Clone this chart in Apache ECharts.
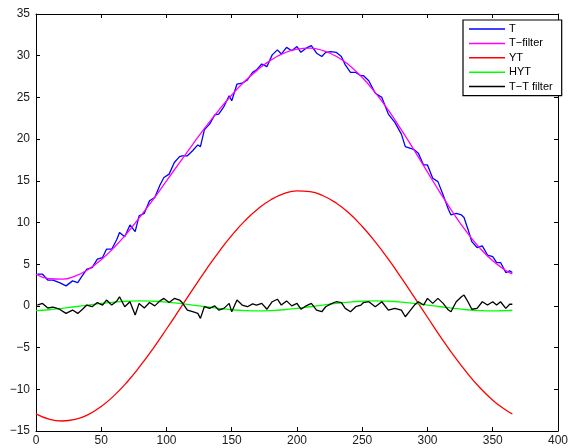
<!DOCTYPE html>
<html>
<head>
<meta charset="utf-8">
<script src="https://cdn.jsdelivr.net/npm/echarts@6/dist/echarts.min.js"></script>
<style>
  html, body { margin: 0; padding: 0; background: #fff; }
  #chart { width: 571px; height: 448px; }
</style>
</head>
<body>
<div id="chart"></div>
<script>
// smooth curves, every 10 days
var smoothDays = [0,10,20,30,40,50,60,70,80,90,100,110,120,130,140,150,160,170,180,190,200,210,220,230,240,250,260,270,280,290,300,310,320,330,340,350,360,365];
var tFilter = [3.79,3.26,3.20,3.58,4.37,5.54,7.03,8.77,10.73,12.81,14.99,17.18,19.35,21.46,23.45,25.29,26.93,28.33,29.47,30.30,30.78,30.90,30.61,29.94,28.86,27.38,25.57,23.46,21.11,18.61,16.04,13.50,11.08,8.87,6.96,5.40,4.25,3.83];
var yt = [-12.95,-13.58,-13.80,-13.62,-13.03,-12.06,-10.73,-9.09,-7.17,-5.05,-2.77,-0.42,1.95,4.26,6.45,8.45,10.19,11.63,12.73,13.46,13.78,13.70,13.21,12.34,11.10,9.52,7.67,5.60,3.35,1.01,-1.36,-3.70,-5.92,-7.97,-9.78,-11.30,-12.49,-12.95];
var hyt = [-0.56,-0.46,-0.30,-0.10,0.10,0.30,0.46,0.56,0.60,0.56,0.46,0.30,0.10,-0.10,-0.30,-0.46,-0.56,-0.60,-0.56,-0.46,-0.30,-0.10,0.10,0.30,0.46,0.56,0.60,0.56,0.46,0.30,0.10,-0.10,-0.30,-0.46,-0.56,-0.60,-0.56,-0.52];

// noisy curves
var noisyDays = [1,5,9,13,18,23,28,32,35,39,43,47,51,54,58,62,64,68,72,76,79,83,87,91,95,98,102,106,110,112,116,120,124,126,129,133,137,140,144,148,150,154,158,162,166,169,173,177,181,185,188,192,196,200,203,207,211,215,219,222,226,230,234,237,241,245,249,251,255,260,265,270,275,280,283,287,290,293,297,300,304,308,312,316,318,322,326,328,331,334,338,342,346,350,353,356,360,363,365];
var tValues = [3.8,3.8,3.1,3.1,2.8,2.4,3.0,2.8,3.5,4.4,4.6,5.6,5.8,6.8,6.8,8.0,8.8,8.3,9.7,8.9,10.8,11.1,12.6,13.0,14.5,15.4,15.8,17.2,17.9,18.0,18.0,18.6,19.3,19.1,21.1,21.8,22.9,23.0,23.9,25.2,24.6,26.6,26.7,27.1,28.0,28.3,29.0,28.7,30.1,30.7,30.2,31.0,30.6,31.1,30.4,30.9,31.2,30.3,29.9,30.4,30.5,30.4,29.9,28.9,28.0,28.0,27.6,27.6,27.0,25.5,25.0,23.0,22.0,20.6,19.1,18.9,18.7,18.3,16.9,16.9,15.3,14.9,13.3,11.6,10.9,11.1,10.9,10.6,9.2,7.7,7.0,7.2,6.1,5.9,5.2,5.2,4.0,4.2,4.0];
var ttFilter = [0.1,0.3,-0.25,-0.15,-0.4,-0.9,-0.5,-0.9,-0.5,0.1,-0.1,0.4,0.1,0.7,0.1,0.6,1.1,-0.1,0.5,-1.1,0.3,-0.25,0.4,0.0,0.6,0.9,0.4,0.9,0.7,0.4,-0.5,-0.7,-0.9,-1.5,-0.1,-0.3,0.0,-0.5,-0.3,0.3,-0.7,0.7,0.1,-0.1,0.25,0.1,0.3,-0.4,0.5,0.8,0.1,0.6,0.0,0.3,-0.4,0.0,0.3,-0.5,-0.7,-0.1,0.25,0.5,0.4,-0.3,-0.7,-0.1,0.1,0.4,0.5,-0.1,0.5,-0.5,-0.3,-0.5,-1.3,-0.5,0.1,0.5,0.1,0.9,0.3,0.9,0.3,-0.5,-0.7,0.5,1.1,1.3,0.5,-0.4,-0.3,0.5,0.1,0.5,0.1,0.5,-0.3,0.2,0.2];

var seriesNames = ['T', 'T\u2212filter', 'YT', 'HYT', 'T\u2212T filter'];
var seriesColors = ['#0000ff', '#ff00ff', '#ff0000', '#00ff00', '#000000'];
var xTicks = { min: 0, max: 400, interval: 50 };
var yTicks = { min: -15, max: 35, interval: 5 };

function pairs(xs, ys) {
    return xs.map(function (x, i) { return [x, ys[i]]; });
}

var myChart = echarts.init(document.getElementById('chart'));

var labelStyle = { color: '#1a1a1a', fontSize: 12, fontFamily: 'Liberation Sans, Arial, sans-serif' };
var minusFmt = function (v) { return String(v).replace('-', '\u2212'); };

function boxAxis(extra) {
    return Object.assign({
        type: 'value',
        splitLine: { show: false },
        axisLine: { show: true, onZero: false, lineStyle: { color: '#000', width: 1 } },
        axisTick: { show: true, inside: true, length: 4, lineStyle: { color: '#000' } }
    }, extra);
}

function lineSeries(i, xs, ys, smooth) {
    return {
        name: seriesNames[i], type: 'line', symbol: 'none', smooth: smooth,
        data: pairs(xs, ys),
        lineStyle: { color: seriesColors[i], width: 1.3 },
        itemStyle: { color: seriesColors[i] }
    };
}

var option = {
    animation: false,
    backgroundColor: '#fff',
    grid: { left: 36, right: 6, top: 14, bottom: 17 },
    legend: {
        orient: 'vertical',
        left: 463,
        top: 20,
        data: seriesNames.map(function (n) { return { name: n, icon: 'rect' }; }),
        itemWidth: 36,
        itemHeight: 1.5,
        itemGap: 2.4,
        padding: [3, 9, 3, 6],
        backgroundColor: '#fff',
        borderColor: '#000',
        borderWidth: 1.2,
        borderRadius: 0,
        textStyle: { color: '#000', fontSize: 11, lineHeight: 12, fontFamily: 'Liberation Sans, Arial, sans-serif', padding: [0, 0, 0, -1] }
    },
    xAxis: [
        boxAxis({ position: 'bottom', min: xTicks.min, max: xTicks.max, interval: xTicks.interval,
                  axisLabel: Object.assign({ margin: 4, formatter: minusFmt }, labelStyle) }),
        boxAxis({ position: 'top', min: xTicks.min, max: xTicks.max, interval: xTicks.interval,
                  axisLabel: { show: false } })
    ],
    yAxis: [
        boxAxis({ position: 'left', min: yTicks.min, max: yTicks.max, interval: yTicks.interval,
                  axisLabel: Object.assign({ margin: 6, formatter: minusFmt }, labelStyle) }),
        boxAxis({ position: 'right', min: yTicks.min, max: yTicks.max, interval: yTicks.interval,
                  axisLabel: { show: false } })
    ],
    series: [
        lineSeries(0, noisyDays, tValues, false),
        lineSeries(1, smoothDays, tFilter, true),
        lineSeries(2, smoothDays, yt, true),
        lineSeries(3, smoothDays, hyt, true),
        lineSeries(4, noisyDays, ttFilter, false)
    ]
};
myChart.setOption(option);
</script>
</body>
</html>
